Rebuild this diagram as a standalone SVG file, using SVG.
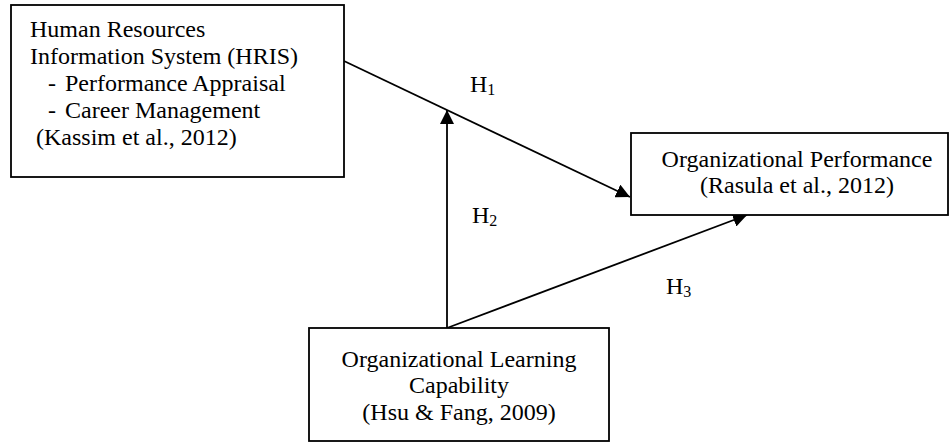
<svg xmlns="http://www.w3.org/2000/svg" width="952" height="443" viewBox="0 0 952 443">
<style>
text{font-family:"Liberation Serif","Times New Roman",serif;font-size:24px;fill:#000}
.box{fill:#fff;stroke:#000;stroke-width:1.8}
.c{fill:none;stroke:#000;stroke-width:1.8}
.sub{font-size:16px}
.m{text-anchor:middle}
</style>
<defs>
<marker id="arr" markerUnits="userSpaceOnUse" markerWidth="15" markerHeight="14" refX="14" refY="7" orient="auto" viewBox="0 0 15 14">
<path d="M0,0 L14,7 L0,14 z" fill="#000"/>
</marker>
</defs>
<g id="connectors">
<line class="c" x1="344" y1="61" x2="630" y2="197" marker-end="url(#arr)"/>
<line class="c" x1="447" y1="328" x2="447" y2="110" marker-end="url(#arr)"/>
<line class="c" x1="447" y1="328" x2="747" y2="215" marker-end="url(#arr)"/>
</g>
<g id="hris">
<rect class="box" x="11" y="5" width="333" height="172"/>
<text x="30" y="37">Human Resources</text>
<text x="30" y="64">Information System (HRIS)</text>
<text x="48" y="91">- <tspan x="65">Performance Appraisal</tspan></text>
<text x="48" y="118">- <tspan x="65">Career Management</tspan></text>
<text x="36" y="145">(Kassim et al., 2012)</text>
</g>
<g id="orgperf">
<rect class="box" x="631" y="133" width="317" height="82"/>
<text class="m" x="797" y="167">Organizational Performance</text>
<text class="m" x="797" y="193">(Rasula et al., 2012)</text>
</g>
<g id="olc">
<rect class="box" x="309" y="328" width="300" height="113"/>
<text class="m" x="459" y="367">Organizational Learning</text>
<text class="m" x="459" y="393">Capability</text>
<text class="m" x="459" y="420">(Hsu &amp; Fang, 2009)</text>
</g>
<g id="labels">
<text x="470" y="92">H<tspan class="sub" dy="3">1</tspan></text>
<text x="472" y="223">H<tspan class="sub" dy="3">2</tspan></text>
<text x="666" y="294">H<tspan class="sub" dy="3">3</tspan></text>
</g>
</svg>
